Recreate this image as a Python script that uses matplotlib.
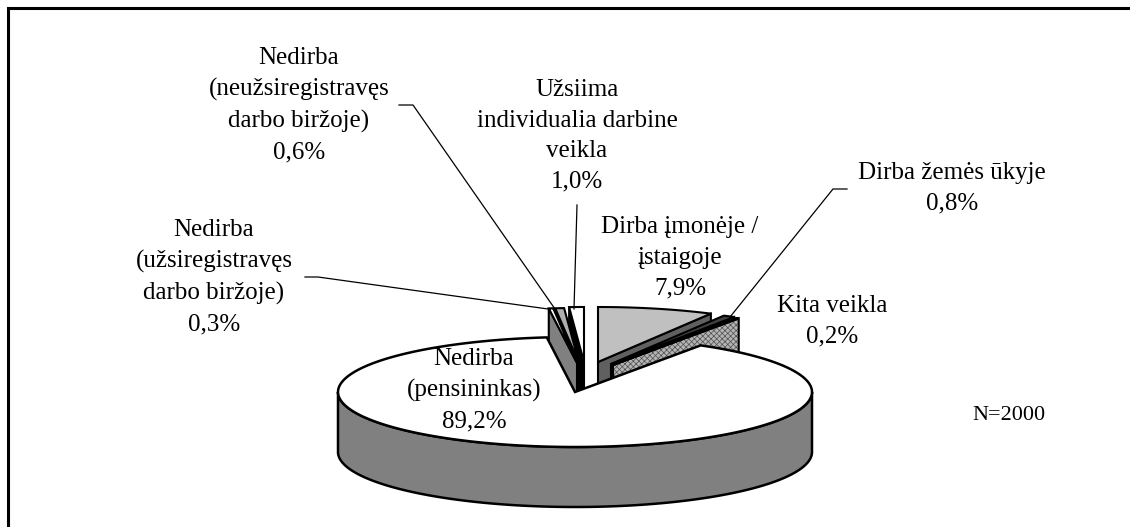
import numpy as np
import matplotlib
matplotlib.use("Agg")
import matplotlib.pyplot as plt
from matplotlib.patches import Polygon

# data, clockwise from 12 o'clock
labels = ["Dirba įmonėje /\nįstaigoje", "Dirba žemės ūkyje", "Kita veikla", "Nedirba\n(pensininkas)",
          "Nedirba\n(užsiregistravęs\ndarbo biržoje)", "Nedirba\n(neužsiregistravęs\ndarbo biržoje)",
          "Užsiima\nindividualia darbine\nveikla"]
values = [7.9, 0.8, 0.2, 89.2, 0.3, 0.6, 1.0]
value_text = ["7,9%", "0,8%", "0,2%", "89,2%", "0,3%", "0,6%", "1,0%"]
note = "N=2000"

# styles / layout, pixels
CX, CY = 575, 392
A, B = 237, 55
DEPTH = 60
apex = [(598, 362), (611, 364), (613, 365), (CX, CY), (577, 363), (579, 363), (584, 362)]
top_col = ["#c0c0c0", "#404040", "#202020", "white", "white", "#b0b0b0", "white"]
wall_col = ["#606060", "#101010", "#b4b4b4", "#808080", "#808080", "#101010", "#000000"]
text_pos = [(680, 258), (952, 188), (832, 321), (474, 390), (214, 277), (299, 105), (577, 136)]
leaders = {
    1: [(847, 189), (833, 189), (730, 317)],
    4: [(305, 277), (318, 277), (548, 309)],
    5: [(399, 105), (413, 105), (555, 309)],
    6: [(577, 205), (574, 309)],
}

plt.rcParams['hatch.linewidth'] = 0.5


def rim(t, cx, cy):
    return cx + A * np.sin(t), cy - B * np.cos(t)


def wedge_xy(cx, cy, a0, a1):
    t = np.linspace(a0, a1, 200)
    x, y = rim(t, cx, cy)
    return np.column_stack([np.r_[cx, x], np.r_[cy, y]])


fig = plt.figure(figsize=(11.30, 5.27), dpi=100)
ax = fig.add_axes([0, 0, 1, 1])
ax.set_xlim(0, 1130)
ax.set_ylim(527, 0)
ax.axis("off")

# frame, only left and top are inside the crop
ax.plot([8, 8, 1130], [527, 7.5, 7.5], color="black", lw=2.2, solid_joinstyle="miter")

bounds = np.r_[0, np.cumsum(values)] / sum(values) * 2 * np.pi

# exploded slices first, main slice covers them. back ones before front ones
z = 2.0
for i in [0, 1, 2, 6, 5, 4]:
    cx, cy = apex[i]
    a0, a1 = bounds[i], bounds[i + 1]
    if i < 3:
        x0, y0 = rim(a1, cx, cy)
    else:
        x0, y0 = rim(a0, cx, cy)
    corners = [(cx, cy), (x0, y0), (x0, y0 + DEPTH), (cx, cy + DEPTH)]
    if i == 2:
        ax.add_patch(Polygon(corners, closed=True, facecolor=wall_col[i], edgecolor="#505050",
                             hatch="xxxxxx", lw=0, zorder=z))
    ax.add_patch(Polygon(corners, closed=True, facecolor=wall_col[i] if i != 2 else "none",
                         edgecolor="black", lw=1.5, zorder=z + 0.01))
    ax.add_patch(Polygon(wedge_xy(cx, cy, a0, a1), closed=True, facecolor=top_col[i],
                         edgecolor="black", lw=1.5, zorder=z + 0.02))
    z += 0.1

# main slice, outer wall then top
a0, a1 = bounds[3], bounds[4]
t = np.linspace(max(a0, np.pi / 2), min(a1, 3 * np.pi / 2), 300)
x, y = rim(t, CX, CY)
ax.add_patch(Polygon(np.column_stack([np.r_[x, x[::-1]], np.r_[y, y[::-1] + DEPTH]]), closed=True,
                     facecolor=wall_col[3], edgecolor="black", lw=1.8, zorder=4))
ax.add_patch(Polygon(wedge_xy(CX, CY, a0, a1), closed=True, facecolor=top_col[3],
                     edgecolor="black", lw=1.8, zorder=5))

for i, pts in leaders.items():
    xs, ys = zip(*pts)
    ax.plot(xs, ys, color="black", lw=0.9, zorder=6)

for lab, val, (tx, ty) in zip(labels, value_text, text_pos):
    ax.text(tx, ty, lab + "\n" + val, ha="center", va="center", family="Liberation Serif",
            fontsize=18, linespacing=1.5, color="black", zorder=7)
ax.text(1009, 416, note, ha="center", va="center", family="Liberation Serif", fontsize=16,
        color="black", zorder=7)

fig.savefig("out.png", dpi=100)
